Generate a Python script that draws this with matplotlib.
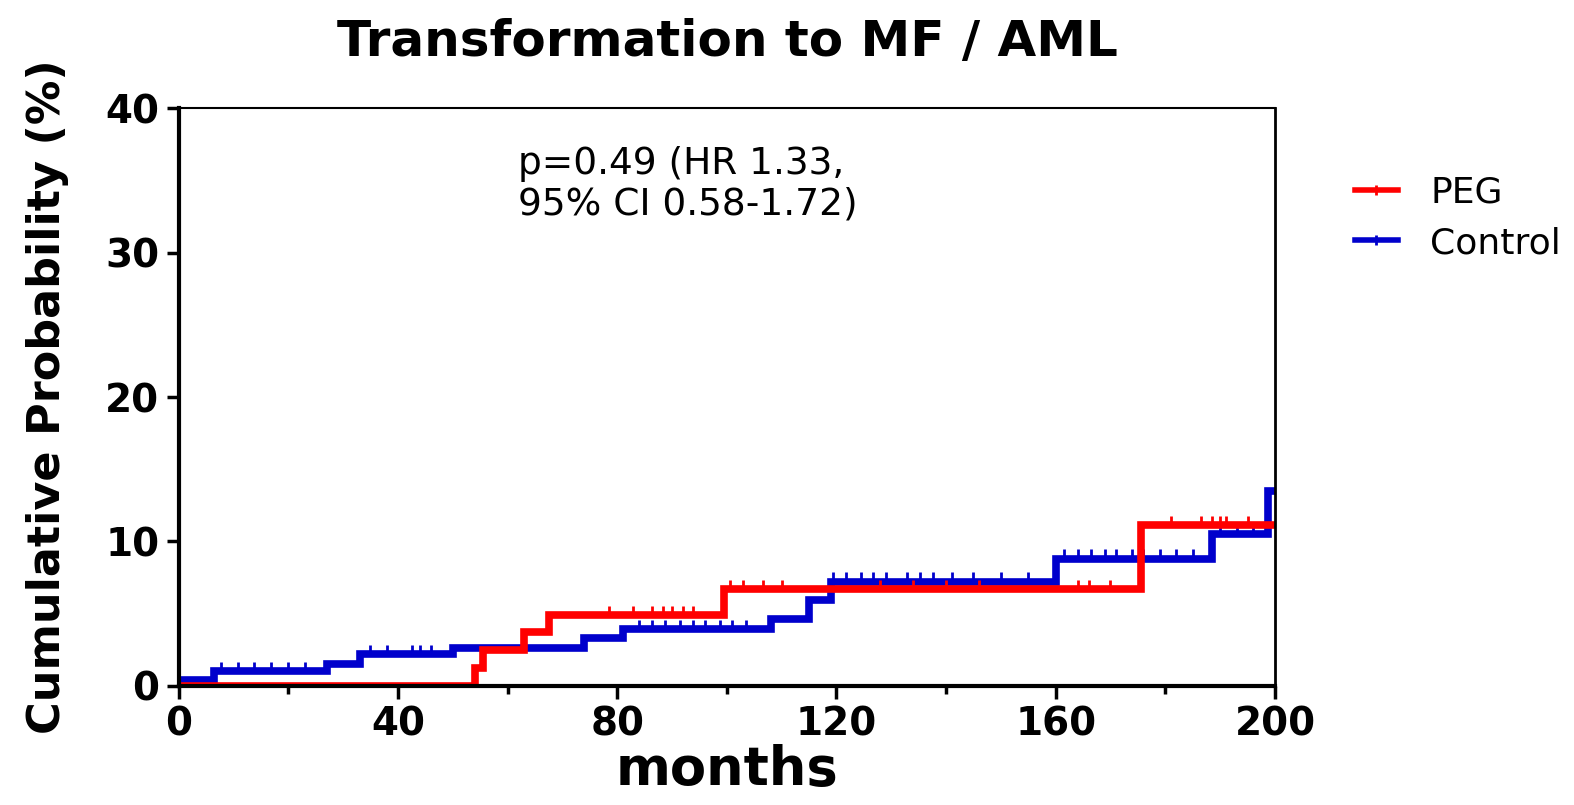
import matplotlib.pyplot as plt
import numpy as np
from matplotlib.lines import Line2D

# step data (months, cumulative %)
peg_t = [0, 54, 55.5, 63, 67.5, 99.5, 175.5, 200]
peg_y = [0, 1.2, 2.5, 3.7, 4.9, 6.7, 11.1, 11.1]
ctl_t = [0, 6.5, 27, 33, 50, 74, 81, 108, 115, 119, 160, 188.5, 198.8, 200]
ctl_y = [0.4, 1.0, 1.5, 2.2, 2.6, 3.3, 3.9, 4.6, 5.9, 7.2, 8.8, 10.5, 13.5, 13.5]

# censor ticks
peg_cens = [78.6, 82.8, 86.4, 88.3, 90, 92, 93.8, 100.5, 103, 106.6, 110,
            128, 134, 140, 146, 164, 166, 170, 181, 186.6, 188.5, 190, 191, 195]
ctl_cens = [7.7, 10.8, 13.7, 16.8, 20, 23, 35, 38, 42.5, 44, 46, 84, 86.4, 88.8,
            91.4, 93.8, 96, 98.7, 101, 103.5, 119.4, 121.8, 124.4, 126.7, 129, 132.8,
            135.3, 137.7, 141, 145, 150, 155, 161.5, 164, 166.5, 169, 171, 174, 176,
            179, 182, 185, 190, 193, 196]

RED = '#ff0000'
BLUE = '#0000cc'

def step_at(t, ts, ys):
    i = np.searchsorted(ts, t, side='right') - 1
    return np.asarray(ys)[i]

fig = plt.figure(figsize=(15.74, 8.05), dpi=100)
ax = fig.add_axes([0.1135, 0.1483, 0.6965, 0.717])

ax.step(ctl_t, ctl_y, where='post', color=BLUE, lw=5.5, solid_joinstyle='miter')
ax.plot(ctl_cens, step_at(ctl_cens, ctl_t, ctl_y) + 0.3, ls='none', marker='|',
        ms=7, mew=2, color=BLUE)
ax.step(peg_t, peg_y, where='post', color=RED, lw=5.5, solid_joinstyle='miter')
ax.plot(peg_cens, step_at(peg_cens, peg_t, peg_y) + 0.3, ls='none', marker='|',
        ms=7, mew=2, color=RED)

ax.set_xlim(0, 200)
ax.set_ylim(0, 40)
ax.set_xticks(np.arange(0, 201, 40))
ax.set_xticks(np.arange(20, 200, 40), minor=True)
ax.set_yticks(np.arange(0, 41, 10))
ax.tick_params(axis='both', which='major', length=9, width=2.5, direction='out',
               labelsize=28, pad=5)
ax.tick_params(axis='x', which='minor', length=6, width=2.5, direction='out')
for lab in ax.get_xticklabels() + ax.get_yticklabels():
    lab.set_fontweight('bold')
ax.spines['left'].set_linewidth(3)
ax.spines['bottom'].set_linewidth(3)
ax.spines['top'].set_linewidth(1.5)
ax.spines['right'].set_linewidth(2)

ax.set_xlabel('months', fontsize=38, fontweight='bold', labelpad=1)
ax.set_ylabel('Cumulative Probability (%)', fontsize=32, fontweight='bold', labelpad=26)
fig.suptitle('Transformation to MF / AML', fontsize=36, fontweight='bold',
             x=0.462, y=0.978)

ax.text(0.31, 0.935, 'p=0.49 (HR 1.33,\n95% CI 0.58-1.72)', transform=ax.transAxes,
        fontsize=27, va='top', ha='left', linespacing=1.15)

handles = [Line2D([], [], color=RED, lw=4, marker='|', ms=7, mew=2),
           Line2D([], [], color=BLUE, lw=4, marker='|', ms=7, mew=2)]
fig.legend(handles, ['PEG', 'Control'], loc='upper left', bbox_to_anchor=(0.84, 0.822),
           frameon=False, fontsize=26, handlelength=1.2, handletextpad=0.9,
           labelspacing=0.45)

fig.savefig('out.png', dpi=100)
